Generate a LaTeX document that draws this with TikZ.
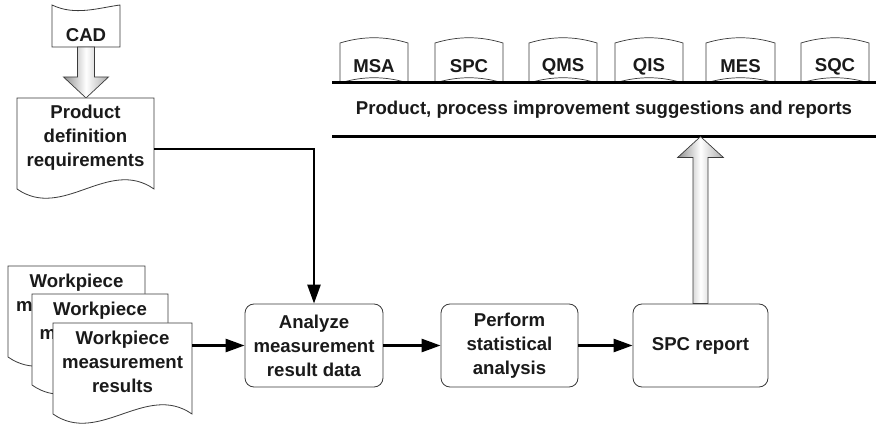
\documentclass[tikz,border=0pt]{standalone}
\usepackage{fontspec}
\setmainfont{Liberation Sans}
\usepackage{xcolor}
\usetikzlibrary{arrows.meta, positioning, calc}
\definecolor{boxgray}{HTML}{3A3A3A}
\definecolor{txtblack}{HTML}{1A1A1A}
\definecolor{shadegray}{HTML}{8E8E8E}

\begin{document}
\begin{tikzpicture}[x=1pt, y=-1pt,
  font=\fontsize{18.6}{24}\selectfont\bfseries,
  lbl/.style={text=txtblack, align=center, inner sep=0pt},
  doctxt/.style={lbl, minimum width=137pt},
  docline/.style={draw=boxgray, fill=white, line width=0.8pt},
  procbox/.style={lbl, draw=boxgray, fill=white, line width=0.8pt,
    rounded corners=9pt, minimum width=138pt, minimum height=83pt},
  tabline/.style={draw=boxgray, fill=white, line width=0.7pt},
  bar/.style={line width=3pt, black},
  arr/.style={-{Triangle[length=19pt, width=13pt]}, line width=2.6pt, black},
  blockarr/.style={draw=boxgray, line width=0.7pt,
    left color=shadegray, right color=shadegray!75, middle color=white}
]
  \useasboundingbox (0,0) rectangle (878,427);

  % CAD and product definition
  \draw[docline] (52,5) .. controls (75,16) and (98,8) .. (120,5)
    -- (120,47) -- (52,47) -- cycle;
  \node[lbl] (cad) at (86,35) {CAD};
  \coordinate (cadbot) at (86,47);
  \draw[blockarr] ([xshift=-8.5pt]cadbot) -- ++(0,30) -- ++(-14,0)
    -- ++(22.5,21) -- ++(22.5,-21) -- ++(-14,0) -- ++(0,-30) -- cycle;

  \draw[docline] (17,98) -- (17,189) .. controls (63,221) and (108,157) .. (154,189)
    -- (154,98) -- cycle;
  \node[doctxt] (pd) at (85.5,138) {Product\\definition\\requirements};

  % Workpiece stack
  \draw[docline] (8,266) -- (8,357) .. controls (54,389) and (99,325) .. (145,357)
    -- (145,266) -- cycle;
  \node[doctxt] (wp1) at (76.5,305) {Workpiece\\measurement\\results};
  \draw[docline] (32,294) -- (32,385) .. controls (77,417) and (123,353) .. (168,385)
    -- (168,294) -- cycle;
  \node[doctxt] (wp2) at (100,333) {Workpiece\\measurement\\results};
  \draw[docline] (53,323) -- (53,414) .. controls (99,446) and (146,382) .. (192,414)
    -- (192,323) -- cycle;
  \node[doctxt, minimum width=139pt] (wp3) at (122.5,362) {Workpiece\\measurement\\results};

  % Process chain
  \node[procbox] (an) at (314,345.5) {Analyze\\measurement\\result data};
  \node[procbox, minimum width=137pt] (pf) at (509.5,345.5) {Perform\\statistical\\analysis};
  \node[procbox, minimum width=135pt] (spc) at (700.5,345.5) {SPC report};

  \draw[arr] ([yshift=-11pt]pd.east) -| (an.north);
  \draw[arr] (wp3.east |- an.west) -- (an.west);
  \draw[arr] (an) -- (pf);
  \draw[arr] (pf) -- (spc);

  % Systems
  \draw[tabline] (340,83) -- (340,43) .. controls (363,36) and (385,36) .. (408,43)
    -- (408,83) .. controls (385,76) and (363,76) .. (340,83);
  \node[lbl] (msa) at (374,66.5) {MSA};
  \draw[tabline] (435,83) -- (435,43) .. controls (458,36) and (480,36) .. (503,43)
    -- (503,83) .. controls (480,76) and (458,76) .. (435,83);
  \node[lbl] (spcsys) at (469,66.5) {SPC};
  \draw[tabline] (529,83) -- (529,43) .. controls (552,36) and (574,36) .. (597,43)
    -- (597,83) .. controls (574,76) and (552,76) .. (529,83);
  \node[lbl] (qms) at (563,66.5) {QMS};
  \draw[tabline] (615,83) -- (615,43) .. controls (638,36) and (660,36) .. (683,43)
    -- (683,83) .. controls (660,76) and (638,76) .. (615,83);
  \node[lbl] (qis) at (649,66.5) {QIS};
  \draw[tabline] (706,83) -- (706,43) .. controls (729,36) and (752,36) .. (775,43)
    -- (775,83) .. controls (752,76) and (729,76) .. (706,83);
  \node[lbl] (mes) at (740.5,66.5) {MES};
  \draw[tabline] (801,83) -- (801,43) .. controls (824,36) and (846,36) .. (869,43)
    -- (869,83) .. controls (846,76) and (824,76) .. (801,83);
  \node[lbl] (sqc) at (835,66.5) {SQC};

  % Reports
  \coordinate (topL) at (332,83);
  \coordinate (topR) at (876,83);
  \coordinate (lowL) at (332,137);
  \coordinate (lowR) at (876,137);
  \draw[bar] (topL) -- (topR);
  \draw[bar] (lowL) -- (lowR);
  \node[lbl] (sugg) at (604,110) {Product, process improvement suggestions and reports};

  \draw[blockarr] ([xshift=-7.5pt]spc.north) -- ++(0,-146) -- ++(-15.5,0)
    -- ++(23,-21) -- ++(23,21) -- ++(-15.5,0) -- ++(0,146) -- cycle;
\end{tikzpicture}
\end{document}
